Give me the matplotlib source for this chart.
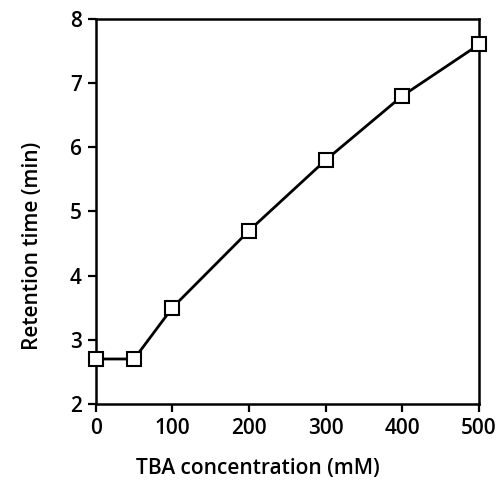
import matplotlib
matplotlib.use("Agg")
import matplotlib.pyplot as plt

# TBA concentration (mM) vs retention time (min)
tba_conc = [0, 50, 100, 200, 300, 400, 500]
retention = [2.7, 2.7, 3.5, 4.7, 5.8, 6.8, 7.6]

x_ticks = [0, 100, 200, 300, 400, 500]
y_ticks = [2, 3, 4, 5, 6, 7, 8]

plt.rcParams['font.family'] = ['Open Sans', 'DejaVu Sans']
plt.rcParams['font.weight'] = 'semibold'

fig = plt.figure(figsize=(4.99, 4.95), dpi=100)
ax = fig.add_axes([0.192, 0.184, 0.768, 0.778])

ax.plot(tba_conc, retention, color='black', linewidth=2.0,
        marker='s', markersize=10, markerfacecolor='white',
        markeredgecolor='black', markeredgewidth=1.5, clip_on=False, zorder=3)

ax.set_xlim(0, 500)
ax.set_ylim(2, 8)
ax.set_xticks(x_ticks)
ax.set_yticks(y_ticks)
ax.tick_params(axis='both', direction='out', length=6, width=1.6,
               labelsize=15, pad=4)

for side in ['left', 'right', 'top', 'bottom']:
    ax.spines[side].set_linewidth(1.8)

ax.set_xlabel('TBA concentration (mM)', fontsize=15, fontweight='semibold')
ax.set_ylabel('Retention time (min)', fontsize=15, fontweight='semibold')
# labels sit a bit off-centre in the original
ax.xaxis.set_label_coords(0.423, -0.14)
ax.yaxis.set_label_coords(-0.138, 0.41)

fig.savefig('out.png', dpi=100)
